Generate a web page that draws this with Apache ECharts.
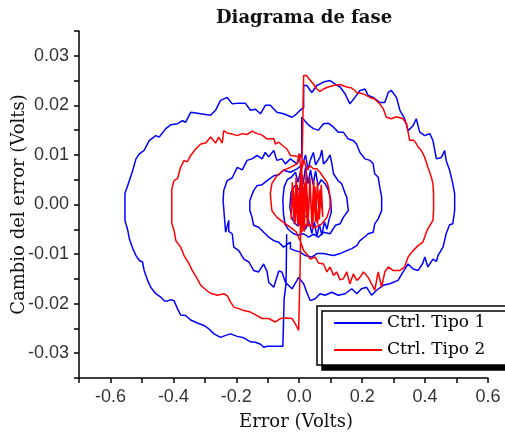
<!DOCTYPE html>
<html>
<head>
<meta charset="utf-8">
<script src="https://cdn.jsdelivr.net/npm/echarts@6/dist/echarts.min.js"></script>
<style>
  html, body { margin: 0; padding: 0; background: #fff; }
  #phaseChart { width: 505px; height: 434px; }
</style>
</head>
<body>
<div id="phaseChart"></div>
<script>
// ejes
const xTicks = { min: -0.7, max: 0.6, step: 0.1 };
const yTicks = { min: -0.035, max: 0.035, step: 0.005 };
const seriesNames = ['Ctrl. Tipo 1', 'Ctrl. Tipo 2'];

// Ctrl Tipo 1 (azul), trazado por tramos [error, cambio del error]
const b1Drop = [[-0.040,-0.006],[-0.041,-0.012],[-0.042,-0.016],[-0.048,-0.019],[-0.050,-0.024],[-0.052,-0.0286]];
const b1OuterBottom = [[-0.058,-0.0284],[-0.102,-0.0286],[-0.113,-0.0288],[-0.123,-0.0282],[-0.139,-0.0278],[-0.155,-0.0277],[-0.176,-0.0269],[-0.197,-0.0266],[-0.218,-0.0261],[-0.234,-0.0264],[-0.250,-0.0268],[-0.271,-0.0261],[-0.287,-0.0251],[-0.303,-0.0244],[-0.324,-0.0239],[-0.345,-0.0233],[-0.361,-0.0224],[-0.377,-0.0223],[-0.387,-0.0210],[-0.398,-0.0194],[-0.408,-0.0192],[-0.419,-0.0195],[-0.429,-0.0194],[-0.440,-0.0187],[-0.456,-0.0180],[-0.472,-0.0167],[-0.482,-0.0153],[-0.493,-0.0133],[-0.498,-0.0116],[-0.508,-0.0113],[-0.519,-0.0103],[-0.529,-0.0089],[-0.540,-0.0069],[-0.545,-0.0052],[-0.554,-0.0032],[-0.554,0.0022]];
const b1OuterTop = [[-0.540,0.0048],[-0.529,0.0069],[-0.519,0.0092],[-0.508,0.0102],[-0.493,0.0109],[-0.477,0.0129],[-0.456,0.0139],[-0.445,0.0136],[-0.424,0.0153],[-0.408,0.0161],[-0.387,0.0163],[-0.371,0.0169],[-0.361,0.0166],[-0.345,0.0186],[-0.324,0.0184],[-0.282,0.0180],[-0.266,0.0190],[-0.250,0.0210],[-0.229,0.0216],[-0.213,0.0203],[-0.197,0.0204],[-0.171,0.0204],[-0.155,0.0190],[-0.139,0.0192],[-0.123,0.0183],[-0.108,0.0200],[-0.092,0.0200],[-0.071,0.0186],[-0.050,0.0183],[-0.023,0.0176],[-0.010,0.0182],[0.003,0.0190],[0.014,0.0196],[0.014,0.0240]];
const b1OuterRight = [[0.024,0.0240],[0.040,0.0226],[0.056,0.0240],[0.077,0.0247],[0.098,0.0250],[0.114,0.0243],[0.130,0.0237],[0.146,0.0223],[0.161,0.0203],[0.177,0.0216],[0.193,0.0230],[0.209,0.0233],[0.219,0.0220],[0.235,0.0216],[0.256,0.0206],[0.272,0.0206],[0.283,0.0226],[0.293,0.0230],[0.309,0.0216],[0.320,0.0190],[0.335,0.0173],[0.346,0.0149],[0.362,0.0159],[0.372,0.0173],[0.383,0.0146],[0.399,0.0139],[0.415,0.0143],[0.425,0.0129],[0.436,0.0092],[0.452,0.0095],[0.462,0.0109],[0.467,0.0089],[0.478,0.0069],[0.488,0.0042],[0.494,0.0022],[0.494,-0.0012]];
const b1OuterBottomRight = [[0.488,-0.0039],[0.478,-0.0041],[0.467,-0.0059],[0.457,-0.0086],[0.441,-0.0103],[0.436,-0.0115],[0.425,-0.0110],[0.409,-0.0126],[0.399,-0.0106],[0.393,-0.0118],[0.378,-0.0133],[0.362,-0.0130],[0.346,-0.0120],[0.330,-0.0136],[0.314,-0.0153],[0.288,-0.0160],[0.267,-0.0163],[0.246,-0.0173],[0.230,-0.0183],[0.214,-0.0167],[0.198,-0.0170],[0.183,-0.0180],[0.167,-0.0170],[0.146,-0.0180],[0.124,-0.0183],[0.103,-0.0177],[0.082,-0.0183],[0.066,-0.0180],[0.051,-0.0190],[0.035,-0.0194],[0.024,-0.0177],[0.014,-0.0160],[-0.002,-0.0147]];
const b1Ring2Left = [[-0.007,-0.0153],[-0.023,-0.0170],[-0.028,-0.0170],[-0.044,-0.0157],[-0.055,-0.0136],[-0.065,-0.0134],[-0.081,-0.0167],[-0.097,-0.0157],[-0.102,-0.0136],[-0.113,-0.0120],[-0.129,-0.0136],[-0.145,-0.0133],[-0.160,-0.0116],[-0.176,-0.0110],[-0.192,-0.0093],[-0.208,-0.0086],[-0.213,-0.0059],[-0.224,-0.0054],[-0.224,-0.0032],[-0.234,-0.0056],[-0.240,-0.0054],[-0.242,0.0008],[-0.240,0.0028],[-0.229,0.0048],[-0.213,0.0054],[-0.197,0.0075],[-0.181,0.0070],[-0.166,0.0089],[-0.150,0.0092],[-0.134,0.0099],[-0.118,0.0092],[-0.108,0.0105],[-0.097,0.0096],[-0.081,0.0109],[-0.071,0.0089],[-0.055,0.0092],[-0.044,0.0082],[-0.028,0.0092],[-0.007,0.0082],[0.008,0.0103],[0.008,0.0176]];
const b1Ring2Right = [[0.014,0.0176],[0.030,0.0160],[0.045,0.0153],[0.061,0.0150],[0.077,0.0163],[0.092,0.0164],[0.109,0.0156],[0.124,0.0146],[0.140,0.0146],[0.156,0.0132],[0.172,0.0129],[0.182,0.0122],[0.193,0.0105],[0.209,0.0092],[0.225,0.0089],[0.235,0.0082],[0.240,0.0062],[0.251,0.0055],[0.256,0.0035],[0.262,0.0015],[0.262,-0.0012],[0.251,-0.0029],[0.240,-0.0039],[0.235,-0.0056],[0.219,-0.0059],[0.209,-0.0065],[0.193,-0.0073],[0.183,-0.0083],[0.167,-0.0089],[0.151,-0.0093],[0.130,-0.0099],[0.109,-0.0103],[0.092,-0.0101],[0.077,-0.0099],[0.056,-0.0099],[0.040,-0.0106],[0.019,-0.0103],[0.003,-0.0096],[-0.013,-0.0093],[-0.028,-0.0089]];
const b1Ring3 = [[-0.028,-0.0076],[-0.050,-0.0086],[-0.065,-0.0076],[-0.081,-0.0073],[-0.097,-0.0066],[-0.113,-0.0056],[-0.129,-0.0046],[-0.145,-0.0042],[-0.150,-0.0026],[-0.157,-0.0012],[-0.157,0.0008],[-0.145,0.0028],[-0.134,0.0038],[-0.118,0.0040],[-0.102,0.0048],[-0.081,0.0058],[-0.065,0.0060],[-0.050,0.0069],[-0.028,0.0065],[-0.007,0.0072],[0.010,0.0080],[0.020,0.0100],[0.028,0.0070],[0.035,0.0089],[0.045,0.0105],[0.052,0.0080],[0.066,0.0095],[0.072,0.0110],[0.077,0.0082],[0.088,0.0089],[0.098,0.0100],[0.103,0.0085],[0.109,0.0062],[0.124,0.0048],[0.135,0.0042],[0.146,0.0022],[0.151,0.0015],[0.156,-0.0012],[0.151,-0.0012],[0.140,-0.0026],[0.130,-0.0039],[0.115,-0.0042],[0.098,-0.0059],[0.077,-0.0056],[0.061,-0.0066],[0.045,-0.0060],[0.030,-0.0066],[0.014,-0.0059]];
const b1Inner = [[-0.005,-0.0062],[-0.020,-0.0058],[-0.035,-0.0050],[-0.045,-0.0040],[-0.050,-0.0020],[-0.052,0.0010],[-0.048,0.0035],[-0.038,0.0050],[-0.025,0.0055],[-0.012,0.0065],[-0.004,0.0045],[0.005,0.0070],[0.012,0.0040],[0.020,0.0075],[0.028,0.0042],[0.036,0.0070],[0.044,0.0040],[0.052,0.0068],[0.060,0.0038],[0.070,0.0050],[0.082,0.0042],[0.092,0.0030],[0.100,0.0010],[0.102,-0.0015],[0.095,-0.0030],[0.088,-0.0050],[0.080,-0.0035],[0.072,-0.0062],[0.064,-0.0040],[0.056,-0.0065],[0.048,-0.0035],[0.040,-0.0058],[0.030,-0.0032],[0.020,-0.0050],[0.008,-0.0040],[-0.008,-0.0042],[-0.022,-0.0030],[-0.030,-0.0005],[-0.026,0.0025],[-0.014,0.0038],[0.000,0.0030],[0.012,0.0035],[0.024,0.0020],[0.030,-0.0005],[0.022,-0.0025],[0.008,-0.0022],[-0.006,-0.0012],[-0.012,0.0010],[-0.002,0.0015],[0.006,0.0000]];

// Ctrl Tipo 2 (rojo)
const r2TopLeft = [[0.010,0.0100],[0.003,0.0095],[-0.012,0.0098],[-0.028,0.0099],[-0.039,0.0112],[-0.055,0.0120],[-0.066,0.0126],[-0.076,0.0122],[-0.081,0.0133],[-0.102,0.0132],[-0.118,0.0140],[-0.134,0.0143],[-0.150,0.0148],[-0.166,0.0141],[-0.181,0.0143],[-0.197,0.0139],[-0.213,0.0142],[-0.229,0.0144],[-0.240,0.0149],[-0.245,0.0124],[-0.256,0.0136],[-0.266,0.0124],[-0.282,0.0136],[-0.297,0.0124],[-0.313,0.0122],[-0.329,0.0112],[-0.345,0.0099],[-0.356,0.0086],[-0.366,0.0089],[-0.377,0.0075],[-0.387,0.0052],[-0.398,0.0048],[-0.405,0.0032],[-0.405,-0.0039]];
const r2BottomLeft = [[-0.398,-0.0052],[-0.392,-0.0073],[-0.377,-0.0086],[-0.366,-0.0103],[-0.350,-0.0120],[-0.340,-0.0133],[-0.324,-0.0150],[-0.313,-0.0163],[-0.297,-0.0172],[-0.282,-0.0179],[-0.260,-0.0183],[-0.240,-0.0180],[-0.229,-0.0184],[-0.218,-0.0197],[-0.208,-0.0207],[-0.192,-0.0210],[-0.176,-0.0214],[-0.155,-0.0217],[-0.134,-0.0224],[-0.118,-0.0230],[-0.097,-0.0230],[-0.076,-0.0237],[-0.071,-0.0239],[-0.060,-0.0230],[-0.039,-0.0229],[-0.023,-0.0230],[-0.013,-0.0240],[-0.002,-0.0254],[0.000,-0.0205],[0.003,-0.0120],[0.006,0.0000],[0.010,0.0120],[0.014,0.0260]];
const r2TopRight = [[0.024,0.0260],[0.033,0.0252],[0.045,0.0243],[0.056,0.0233],[0.066,0.0228],[0.077,0.0233],[0.092,0.0237],[0.109,0.0240],[0.130,0.0242],[0.151,0.0237],[0.167,0.0235],[0.183,0.0226],[0.204,0.0223],[0.225,0.0216],[0.240,0.0213],[0.256,0.0203],[0.267,0.0193],[0.277,0.0176],[0.293,0.0173],[0.309,0.0177],[0.330,0.0173],[0.341,0.0163],[0.346,0.0146],[0.351,0.0129],[0.362,0.0130],[0.370,0.0125],[0.378,0.0116],[0.388,0.0109],[0.399,0.0095],[0.409,0.0075],[0.420,0.0055],[0.425,0.0042],[0.427,0.0022],[0.427,-0.0012]];
const r2BottomRight = [[0.425,-0.0032],[0.409,-0.0049],[0.404,-0.0056],[0.393,-0.0076],[0.378,-0.0083],[0.362,-0.0093],[0.346,-0.0106],[0.335,-0.0126],[0.320,-0.0133],[0.298,-0.0133],[0.283,-0.0126],[0.272,-0.0136],[0.262,-0.0167],[0.251,-0.0136],[0.240,-0.0173],[0.230,-0.0160],[0.219,-0.0147],[0.204,-0.0136],[0.193,-0.0147],[0.183,-0.0153],[0.172,-0.0140],[0.161,-0.0160],[0.151,-0.0136],[0.140,-0.0150],[0.130,-0.0152],[0.119,-0.0136],[0.109,-0.0143],[0.098,-0.0126],[0.088,-0.0136],[0.077,-0.0120],[0.061,-0.0118],[0.051,-0.0106],[0.035,-0.0110],[0.024,-0.0100],[0.014,-0.0093],[0.003,-0.0073]];
const r2Inner = [[-0.010,-0.0055],[-0.028,-0.0046],[-0.050,-0.0036],[-0.071,-0.0026],[-0.087,-0.0012],[-0.092,0.0022],[-0.087,0.0042],[-0.071,0.0058],[-0.050,0.0069],[-0.028,0.0075],[-0.007,0.0082],[0.000,0.0103],[0.006,0.0065],[0.015,0.0090],[0.024,0.0070],[0.035,0.0078],[0.045,0.0072],[0.056,0.0072],[0.066,0.0065],[0.077,0.0055],[0.088,0.0045],[0.093,0.0035],[0.098,0.0015],[0.098,-0.0006],[0.088,-0.0026],[0.072,-0.0039],[0.051,-0.0046],[0.024,-0.0039],[0.003,-0.0059]];
const r2Center = [[0.010,0.0060],[0.016,-0.0055],[0.022,0.0070],[0.028,-0.0045],[0.034,0.0055],[0.040,-0.0040],[0.046,0.0050],[0.052,-0.0035],[0.058,0.0045],[0.064,-0.0030],[0.070,0.0040],[0.075,-0.0025],[0.066,0.0030],[0.058,-0.0040],[0.050,0.0035],[0.042,-0.0050],[0.034,0.0030],[0.026,-0.0040],[0.018,0.0045],[0.010,-0.0050],[0.004,0.0065],[-0.004,-0.0045],[-0.010,0.0055],[-0.016,-0.0040],[-0.022,0.0045],[-0.026,-0.0030],[-0.020,0.0035],[-0.012,-0.0035],[-0.006,0.0040],[0.000,-0.0040],[0.006,0.0030],[0.012,-0.0030],[0.016,0.0025],[0.010,-0.0025],[0.004,0.0028],[-0.004,-0.0025],[-0.010,0.0022],[-0.004,-0.0018],[0.002,0.0020],[0.006,-0.0015],[0.000,0.0010],[0.002,-0.0005]];

const tipo1 = [].concat(b1Drop, b1OuterBottom, b1OuterTop, b1OuterRight, b1OuterBottomRight,
    b1Ring2Left, b1Ring2Right, b1Ring3, b1Inner);
const tipo2 = [].concat(r2TopLeft, r2BottomLeft, r2TopRight, r2BottomRight, r2Inner, r2Center);

let chartDom = document.getElementById('phaseChart');
let myChart = echarts.init(chartDom);
let option;

const serifFont = '"DejaVu Serif", "Liberation Serif", serif';
const sansFont = '"Liberation Sans", Arial, sans-serif';

option = {
    animation: false,
    backgroundColor: '#fff',
    title: {
        text: 'Diagrama de fase',
        left: 216,
        top: 9,
        padding: 0,
        textStyle: {
            fontFamily: serifFont,
            fontWeight: 'bold',
            fontSize: 18,
            color: '#111'
        }
    },
    grid: { left: 79, right: 17, top: 31, bottom: 56, containLabel: false, outerBoundsMode: 'none' },
    legend: {
        orient: 'vertical',
        left: 317,
        top: 306,
        padding: [8, 40, 6, 17],
        itemGap: 9,
        itemWidth: 48,
        itemHeight: 2,
        icon: 'rect',
        backgroundColor: '#fff',
        borderColor: '#000',
        borderWidth: 1.5,
        borderRadius: 0,
        shadowColor: '#000',
        shadowBlur: 0,
        shadowOffsetX: 5,
        shadowOffsetY: 5,
        textStyle: { fontFamily: serifFont, fontSize: 17, color: '#000', lineHeight: 18 },
        data: seriesNames
    },
    xAxis: {
        type: 'value',
        min: xTicks.min,
        max: xTicks.max,
        interval: xTicks.step,
        name: 'Error (Volts)',
        nameLocation: 'middle',
        nameGap: 35,
        nameMoveOverlap: false,
        nameTextStyle: { fontFamily: serifFont, fontSize: 18, color: '#111', padding: [0, 0, 0, 25] },
        axisLine: { onZero: false, lineStyle: { color: '#000', width: 1.5 } },
        axisTick: { length: 5, lineStyle: { color: '#000', width: 1.5 } },
        axisLabel: {
            margin: 10,
            fontFamily: sansFont,
            fontSize: 18,
            color: '#333',
            formatter: function (v) {
                let k = Math.round(v * 10);
                if (k % 2 !== 0) return '';
                return (k / 10).toFixed(1);
            }
        },
        splitLine: { show: false }
    },
    yAxis: {
        type: 'value',
        min: yTicks.min,
        max: yTicks.max,
        interval: yTicks.step,
        name: 'Cambio del error (Volts)',
        nameLocation: 'middle',
        nameGap: 51,
        nameMoveOverlap: false,
        nameTextStyle: { fontFamily: serifFont, fontSize: 18, color: '#111' },
        axisLine: { onZero: false, lineStyle: { color: '#000', width: 1.5 } },
        axisTick: { length: 5, lineStyle: { color: '#000', width: 1.5 } },
        axisLabel: {
            margin: 10,
            fontFamily: sansFont,
            fontSize: 18,
            color: '#333',
            formatter: function (v) {
                let k = Math.round(v * 1000);
                if (k % 10 !== 0) return '';
                return (k / 1000).toFixed(2);
            }
        },
        splitLine: { show: false }
    },
    series: [
        {
            name: seriesNames[0],
            type: 'line',
            data: tipo1,
            symbol: 'none',
            lineStyle: { color: '#0000ff', width: 1.5 },
            itemStyle: { color: '#0000ff' }
        },
        {
            name: seriesNames[1],
            type: 'line',
            data: tipo2,
            symbol: 'none',
            lineStyle: { color: '#ff0000', width: 1.5 },
            itemStyle: { color: '#ff0000' }
        }
    ]
};

option && myChart.setOption(option);
</script>
</body>
</html>
